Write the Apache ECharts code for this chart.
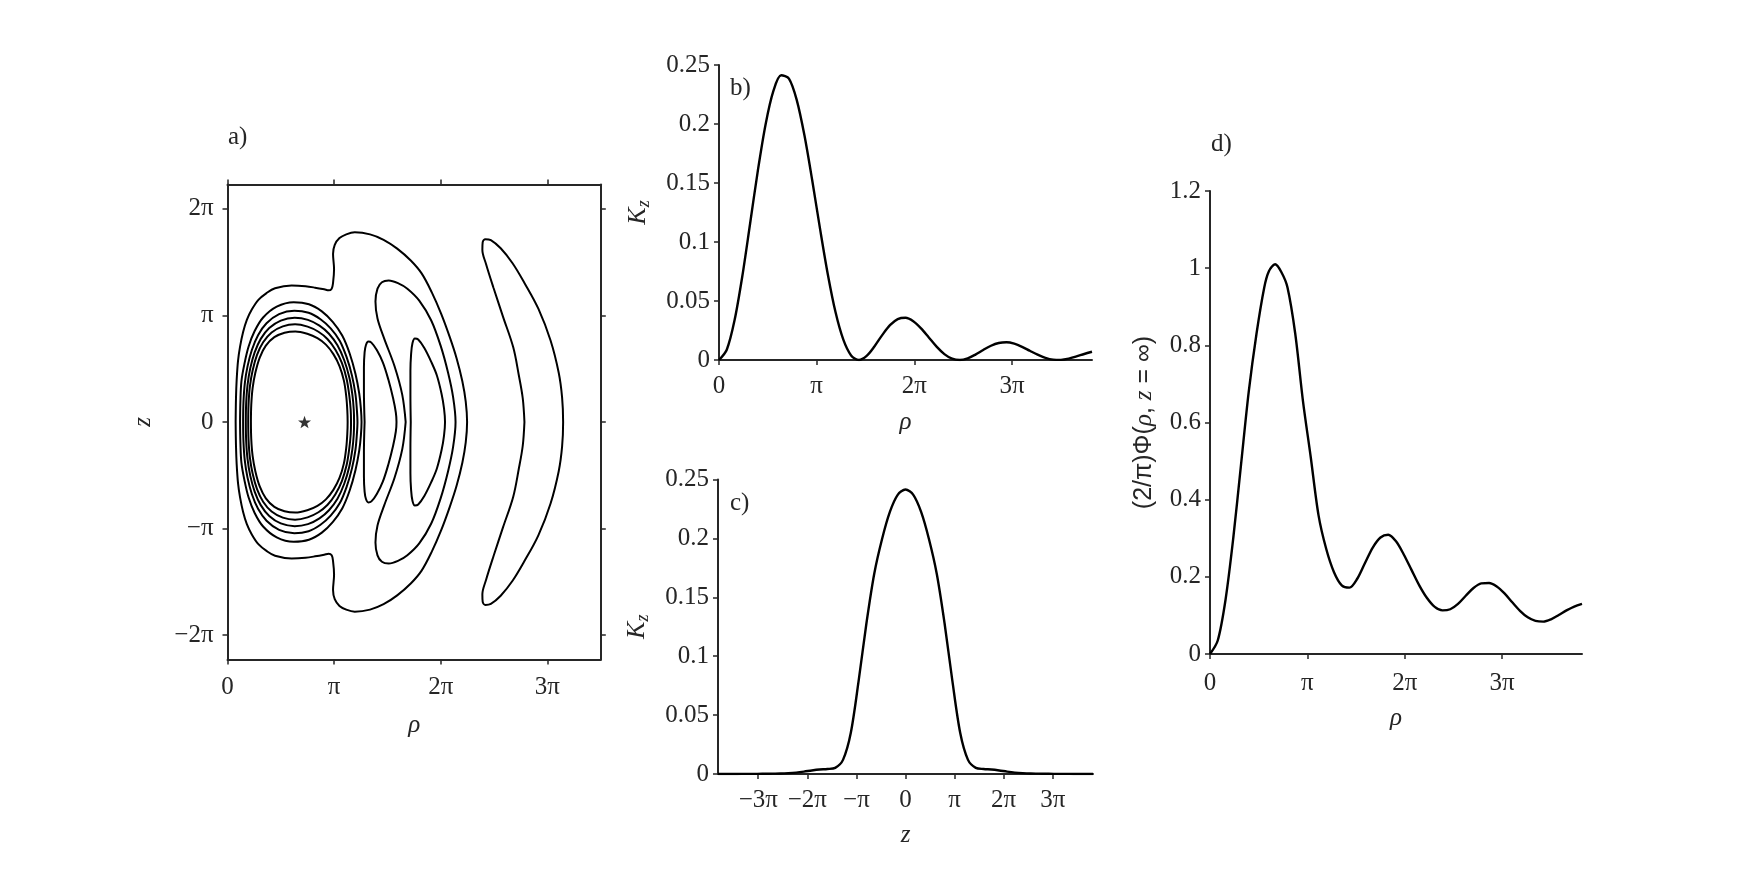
<!DOCTYPE html>
<html><head><meta charset="utf-8">
<script src="https://cdn.jsdelivr.net/npm/echarts@6/dist/echarts.min.js"></script>
<style>html,body{margin:0;padding:0;background:#fff}#c{width:1750px;height:875px}</style>
</head><body><div id="c"></div>
<script>
// ---------- tick labels ----------
const piLabels = {'-3':'\u22123\u03c0','-2':'\u22122\u03c0','-1':'\u2212\u03c0','0':'0','1':'\u03c0','2':'2\u03c0','3':'3\u03c0'};
const aRhoTickMult = [0,1,2,3];
const aZTickMult = [-2,-1,0,1,2];
const bRhoTickMult = [0,1,2,3];
const cZTickMult = [-3,-2,-1,0,1,2,3];
const dRhoTickMult = [0,1,2,3];

// ---------- panel a: contour lines (rho, z) ----------
const contourOuter = [[0.24,0],[0.25,0.7],[0.27,1.24],[0.31,1.8],[0.37,2.22],[0.46,2.65],[0.57,3.01],[0.72,3.32],[0.91,3.60],[1.15,3.80],[1.40,3.94],[1.89,4.02],[2.30,4.00],[2.58,3.96],[2.85,3.91],[2.98,3.88],[3.07,3.93],[3.11,4.10],[3.14,4.50],[3.11,4.95],[3.16,5.22],[3.30,5.42],[3.50,5.53],[3.75,5.59],[4.20,5.53],[4.60,5.37],[5.00,5.11],[5.40,4.76],[5.72,4.38],[6.02,3.82],[6.30,3.18],[6.55,2.50],[6.75,1.88],[6.92,1.20],[7.02,0.60],[7.06,0],
 [7.02,-0.60],[6.92,-1.20],[6.75,-1.88],[6.55,-2.50],[6.30,-3.18],[6.02,-3.82],[5.72,-4.38],[5.40,-4.76],[5.00,-5.11],[4.60,-5.37],[4.20,-5.53],[3.75,-5.59],[3.50,-5.53],[3.30,-5.42],[3.16,-5.22],[3.11,-4.95],[3.14,-4.50],[3.11,-4.10],[3.07,-3.93],[2.98,-3.88],[2.85,-3.91],[2.58,-3.96],[2.30,-4.00],[1.89,-4.02],[1.40,-3.94],[1.15,-3.80],[0.91,-3.60],[0.72,-3.32],[0.57,-3.01],[0.46,-2.65],[0.37,-2.22],[0.31,-1.8],[0.27,-1.24],[0.25,-0.7],[0.24,0]];
const ring1 = [[0.37,0],[0.38,0.6],[0.41,1.2],[0.50,1.72],[0.62,2.22],[0.80,2.68],[1.05,3.08],[1.45,3.40],[1.95,3.53],[2.40,3.47],[2.78,3.26],[3.10,2.95],[3.38,2.55],[3.60,2.02],[3.77,1.42],[3.88,0.85],[3.93,0.40],[3.95,0],
 [3.93,-0.40],[3.88,-0.85],[3.77,-1.42],[3.60,-2.02],[3.38,-2.55],[3.10,-2.95],[2.78,-3.26],[2.40,-3.47],[1.95,-3.53],[1.45,-3.40],[1.05,-3.08],[0.80,-2.68],[0.62,-2.22],[0.50,-1.72],[0.41,-1.2],[0.38,-0.6],[0.37,0]];
const ring2 = [[0.46,0],[0.47,0.57],[0.51,1.14],[0.59,1.64],[0.72,2.13],[0.90,2.56],[1.15,2.91],[1.52,3.18],[1.97,3.28],[2.39,3.22],[2.74,3.03],[3.04,2.76],[3.31,2.39],[3.51,1.91],[3.67,1.36],[3.77,0.82],[3.81,0.39],[3.83,0],
 [3.81,-0.39],[3.77,-0.82],[3.67,-1.36],[3.51,-1.91],[3.31,-2.39],[3.04,-2.76],[2.74,-3.03],[2.39,-3.22],[1.97,-3.28],[1.52,-3.18],[1.15,-2.91],[0.90,-2.56],[0.72,-2.13],[0.59,-1.64],[0.51,-1.14],[0.47,-0.57],[0.46,0]];
const ring3 = [[0.54,0],[0.55,0.55],[0.59,1.09],[0.67,1.58],[0.80,2.05],[0.98,2.45],[1.23,2.77],[1.57,2.99],[1.98,3.07],[2.37,3.01],[2.71,2.84],[2.99,2.60],[3.24,2.26],[3.44,1.82],[3.59,1.31],[3.68,0.80],[3.72,0.37],[3.73,0],
 [3.72,-0.37],[3.68,-0.80],[3.59,-1.31],[3.44,-1.82],[3.24,-2.26],[2.99,-2.60],[2.71,-2.84],[2.37,-3.01],[1.98,-3.07],[1.57,-2.99],[1.23,-2.77],[0.98,-2.45],[0.80,-2.05],[0.67,-1.58],[0.59,-1.09],[0.55,-0.55],[0.54,0]];
const ring4 = [[0.61,0],[0.62,0.52],[0.66,1.05],[0.74,1.52],[0.87,1.98],[1.05,2.35],[1.30,2.64],[1.63,2.82],[1.99,2.88],[2.36,2.81],[2.68,2.66],[2.95,2.44],[3.18,2.13],[3.37,1.74],[3.51,1.27],[3.59,0.77],[3.63,0.36],[3.64,0],
 [3.63,-0.36],[3.59,-0.77],[3.51,-1.27],[3.37,-1.74],[3.18,-2.13],[2.95,-2.44],[2.68,-2.66],[2.36,-2.81],[1.99,-2.88],[1.63,-2.82],[1.30,-2.64],[1.05,-2.35],[0.87,-1.98],[0.74,-1.52],[0.66,-1.05],[0.62,-0.52],[0.61,0]];
const ring5 = [[0.69,0],[0.70,0.5],[0.74,1.0],[0.82,1.45],[0.95,1.9],[1.13,2.25],[1.38,2.50],[1.68,2.63],[2.00,2.67],[2.35,2.60],[2.65,2.47],[2.90,2.28],[3.12,2.00],[3.30,1.65],[3.43,1.22],[3.50,0.75],[3.53,0.35],[3.54,0],
 [3.53,-0.35],[3.50,-0.75],[3.43,-1.22],[3.30,-1.65],[3.12,-2.00],[2.90,-2.28],[2.65,-2.47],[2.35,-2.60],[2.00,-2.67],[1.68,-2.63],[1.38,-2.50],[1.13,-2.25],[0.95,-1.9],[0.82,-1.45],[0.74,-1.0],[0.70,-0.5],[0.69,0]];
const lobeA = [[4.04,0],[4.02,0.9],[4.02,1.6],[4.04,2.05],[4.08,2.27],[4.15,2.37],[4.24,2.34],[4.40,2.12],[4.58,1.75],[4.74,1.25],[4.88,0.70],[4.96,0.28],[4.98,0],
 [4.96,-0.28],[4.88,-0.70],[4.74,-1.25],[4.58,-1.75],[4.40,-2.12],[4.24,-2.34],[4.15,-2.37],[4.08,-2.27],[4.04,-2.05],[4.02,-1.6],[4.02,-0.9],[4.04,0]];
const lobeB = [[5.25,0],[5.15,0.8],[4.92,1.65],[4.62,2.45],[4.42,3.05],[4.36,3.55],[4.42,3.93],[4.55,4.12],[4.75,4.17],[5.05,4.08],[5.30,3.93],[5.65,3.58],[6.00,3.00],[6.28,2.25],[6.50,1.45],[6.65,0.72],[6.72,0],
 [6.65,-0.72],[6.50,-1.45],[6.28,-2.25],[6.00,-3.00],[5.65,-3.58],[5.30,-3.93],[5.05,-4.08],[4.75,-4.17],[4.55,-4.12],[4.42,-3.93],[4.36,-3.55],[4.42,-3.05],[4.62,-2.45],[4.92,-1.65],[5.15,-0.8],[5.25,0]];
const lobeC = [[5.40,0],[5.39,0.8],[5.39,1.5],[5.41,2.0],[5.45,2.32],[5.52,2.46],[5.62,2.43],[5.80,2.18],[6.00,1.78],[6.17,1.37],[6.31,0.82],[6.38,0.40],[6.41,0],
 [6.38,-0.40],[6.31,-0.82],[6.17,-1.37],[6.00,-1.78],[5.80,-2.18],[5.62,-2.43],[5.52,-2.46],[5.45,-2.32],[5.41,-2.0],[5.39,-1.5],[5.39,-0.8],[5.40,0]];
const lobeD = [[8.75,0],[8.70,0.7],[8.58,1.4],[8.42,2.2],[8.12,3.1],[7.84,3.95],[7.62,4.65],[7.51,5.08],[7.52,5.30],[7.60,5.39],[7.76,5.36],[8.05,5.12],[8.40,4.68],[8.75,4.10],[9.16,3.34],[9.52,2.40],[9.76,1.45],[9.86,0.72],[9.89,0],
 [9.86,-0.72],[9.76,-1.45],[9.52,-2.40],[9.16,-3.34],[8.75,-4.10],[8.40,-4.68],[8.05,-5.12],[7.76,-5.36],[7.60,-5.39],[7.52,-5.30],[7.51,-5.08],[7.62,-4.65],[7.84,-3.95],[8.12,-3.1],[8.42,-2.2],[8.58,-1.4],[8.70,-0.7],[8.75,0]];
const starPoint = [[2.27,0]];

// ---------- panel b: K_z vs rho ----------
const bRho = [0,0.25,0.5,0.75,1,1.25,1.5,1.75,2,2.25,2.5,2.75,3,3.25,3.5,3.75,4,4.25,4.5,4.75,5,5.25,5.5,5.75,6,6.25,6.5,6.75,7,7.25,7.5,7.75,8,8.25,8.5,8.75,9,9.25,9.5,9.75,10,10.25,10.5,10.75,11,11.25,11.5,11.75,12];
const bK = [0,0.0087,0.0336,0.0710,0.1155,0.1605,0.1998,0.2280,0.2413,0.2385,0.2205,0.1902,0.1521,0.1113,0.0727,0.0404,0.0172,0.0039,0.0000,0.0035,0.0115,0.0211,0.0295,0.0347,0.0358,0.0329,0.0268,0.0191,0.0113,0.0050,0.0011,0.0000,0.0014,0.0046,0.0085,0.0121,0.0144,0.0150,0.0138,0.0112,0.0078,0.0045,0.0018,0.0003,0.0001,0.0011,0.0030,0.0051,0.0070];

// ---------- panel c: K_z vs z ----------
const cZ = [-12,-11.5,-11,-10.5,-10,-9.5,-9,-8.5,-8,-7.5,-7,-6.5,-6,-5.5,-5,-4.5,-4,-3.5,-3,-2.5,-2,-1.5,-1,-0.5,0,0.5,1,1.5,2,2.5,3,3.5,4,4.5,5,5.5,6,6.5,7,7.5,8,8.5,9,9.5,10,10.5,11,11.5,12];
const cK = [0,0,0,0.0001,0.0001,0.0001,0.0002,0.0003,0.0004,0.0007,0.0012,0.0020,0.0030,0.0038,0.0042,0.0052,0.0120,0.0350,0.0790,0.1280,0.1700,0.1995,0.2225,0.2370,0.2415,0.2370,0.2225,0.1995,0.1700,0.1280,0.0790,0.0350,0.0120,0.0052,0.0042,0.0038,0.0030,0.0020,0.0012,0.0007,0.0004,0.0003,0.0002,0.0001,0.0001,0.0001,0,0,0];

// ---------- panel d: (2/pi) Phi(rho, z = inf) ----------
const dRho = [0,0.25,0.5,0.75,1,1.25,1.5,1.75,1.9,2.1,2.3,2.5,2.75,3,3.25,3.5,3.75,4,4.25,4.5,4.75,5,5.25,5.5,5.75,6,6.25,6.5,6.75,7,7.25,7.5,7.75,8,8.25,8.5,8.75,9,9.25,9.5,9.75,10,10.25,10.5,10.75,11,11.25,11.5,11.75,12];
const dPhi = [0,0.035,0.140,0.300,0.490,0.680,0.830,0.950,0.992,1.010,0.990,0.950,0.830,0.655,0.510,0.360,0.272,0.212,0.178,0.172,0.195,0.236,0.276,0.302,0.309,0.292,0.258,0.218,0.178,0.145,0.122,0.113,0.116,0.130,0.151,0.171,0.183,0.184,0.175,0.157,0.134,0.112,0.095,0.086,0.084,0.090,0.101,0.113,0.123,0.130];

// ---------- build ----------
const FONT = "'Liberation Serif','DejaVu Serif',serif";
const AX = '#262626';
const FS = 25;
const PI = Math.PI;
const zip = (xs, ys) => xs.map((x, i) => [x, ys[i]]);
const piVals = m => m.map(k => k * PI);
const piFmt = v => piLabels[String(Math.round(v / PI))];

function axisCommon(o) {
  return Object.assign({
    type: 'value',
    splitLine: { show: false },
    axisLine: { show: true, onZero: false, lineStyle: { color: AX, width: 2 } },
    axisTick: { show: true, inside: false, length: 5, lineStyle: { color: AX, width: 1.5 } },
    axisLabel: { color: AX, fontFamily: FONT, fontSize: FS },
    nameTextStyle: { color: AX, fontFamily: FONT, fontSize: FS },
    nameLocation: 'middle'
  }, o);
}
const tickStyle = { color: AX, width: 1.5 };
const richK = { k: { fontStyle: 'italic', fontFamily: FONT, fontSize: 26, color: AX, lineHeight: 30 },
                s: { fontStyle: 'italic', fontFamily: FONT, fontSize: 18, color: AX, verticalAlign: 'bottom', lineHeight: 30 } };
const richI = { i: { fontStyle: 'italic', fontFamily: FONT, fontSize: FS, color: AX } };

const lineStyleC = { color: '#000', width: 2 };
const contourSeries = [contourOuter, ring1, ring2, ring3, ring4, ring5, lobeA, lobeB, lobeC, lobeD].map(d => ({
  type: 'line', xAxisIndex: 0, yAxisIndex: 0, data: d, showSymbol: false, smooth: 0.35,
  lineStyle: lineStyleC, silent: true
}));

function piXLabel(mult, margin) {
  return { color: AX, fontFamily: FONT, fontSize: FS, margin: margin, customValues: piVals(mult), formatter: piFmt };
}

const option = {
  animation: false,
  backgroundColor: '#fff',
  grid: [
    { left: 227.5, top: 184.5, width: 373.3, height: 475, outerBoundsMode: 'none' },
    { left: 719, top: 65, width: 373, height: 295, outerBoundsMode: 'none' },
    { left: 718, top: 479.5, width: 375, height: 294.5, outerBoundsMode: 'none' },
    { left: 1210, top: 191, width: 372, height: 463, outerBoundsMode: 'none' }
  ],
  xAxis: [
    axisCommon({ gridIndex: 0, min: 0, max: 11, position: 'bottom',
      axisTick: { show: true, length: 5, customValues: piVals(aRhoTickMult), lineStyle: tickStyle },
      axisLabel: piXLabel(aRhoTickMult, 15),
      name: '{i|\u03c1}', nameGap: 53, nameTextStyle: { rich: richI, fontSize: FS } }),
    axisCommon({ gridIndex: 0, min: 0, max: 11, position: 'top',
      axisTick: { show: true, length: 5, customValues: piVals(aRhoTickMult), lineStyle: tickStyle },
      axisLabel: { show: false } }),
    axisCommon({ gridIndex: 1, min: 0, max: 12,
      axisTick: { show: true, length: 5, customValues: piVals(bRhoTickMult), lineStyle: tickStyle },
      axisLabel: piXLabel(bRhoTickMult, 14),
      name: '{i|\u03c1}', nameGap: 50, nameTextStyle: { rich: richI, fontSize: FS } }),
    axisCommon({ gridIndex: 2, min: -12, max: 12,
      axisTick: { show: true, length: 5, customValues: piVals(cZTickMult), lineStyle: tickStyle },
      axisLabel: piXLabel(cZTickMult, 14),
      name: '{i|z}', nameGap: 49, nameTextStyle: { rich: richI, fontSize: FS } }),
    axisCommon({ gridIndex: 3, min: 0, max: 12,
      axisTick: { show: true, length: 5, customValues: piVals(dRhoTickMult), lineStyle: tickStyle },
      axisLabel: piXLabel(dRhoTickMult, 17),
      name: '{i|\u03c1}', nameGap: 52, nameTextStyle: { rich: richI, fontSize: FS } })
  ],
  yAxis: [
    axisCommon({ gridIndex: 0, min: -7, max: 7, position: 'left',
      axisTick: { show: true, length: 5, customValues: piVals(aZTickMult), lineStyle: tickStyle },
      axisLabel: piXLabel(aZTickMult, 14),
      name: '{i|z}', nameGap: 72, nameRotate: 90, nameTextStyle: { rich: richI, fontSize: FS } }),
    axisCommon({ gridIndex: 0, min: -7, max: 7, position: 'right',
      axisTick: { show: true, length: 5, customValues: piVals(aZTickMult), lineStyle: tickStyle },
      axisLabel: { show: false } }),
    axisCommon({ gridIndex: 1, min: 0, max: 0.25, interval: 0.05,
      axisLabel: { color: AX, fontFamily: FONT, fontSize: FS, margin: 9 },
      name: '{k|K}{s|z}', nameGap: 66, nameRotate: 90, nameTextStyle: { rich: richK } }),
    axisCommon({ gridIndex: 2, min: 0, max: 0.25, interval: 0.05,
      axisLabel: { color: AX, fontFamily: FONT, fontSize: FS, margin: 9 },
      name: '{k|K}{s|z}', nameGap: 66, nameRotate: 90, nameTextStyle: { rich: richK } }),
    axisCommon({ gridIndex: 3, min: 0, max: 1.2, interval: 0.2,
      axisLabel: { color: AX, fontFamily: FONT, fontSize: FS, margin: 9 },
      name: '(2/\u03c0)\u03a6({i|\u03c1}, {i|z} = \u221e)', nameGap: 53, nameRotate: 90, nameTextStyle: { rich: richI, fontSize: FS } })
  ],
  series: contourSeries.concat([
    { type: 'scatter', xAxisIndex: 0, yAxisIndex: 0, data: starPoint,
      symbol: 'path://M0,-10L2.35,-3.24L9.51,-3.09L3.8,1.24L5.88,8.09L0,4L-5.88,8.09L-3.8,1.24L-9.51,-3.09L-2.35,-3.24Z',
      symbolSize: 13, symbolKeepAspect: true, itemStyle: { color: '#000' }, silent: true },
    { type: 'line', xAxisIndex: 2, yAxisIndex: 2, data: zip(bRho, bK), showSymbol: false, smooth: 0.3, lineStyle: { color: '#000', width: 2.4 } },
    { type: 'line', xAxisIndex: 3, yAxisIndex: 3, data: zip(cZ, cK), showSymbol: false, smooth: 0.3, lineStyle: { color: '#000', width: 2.4 } },
    { type: 'line', xAxisIndex: 4, yAxisIndex: 4, data: zip(dRho, dPhi), showSymbol: false, smooth: 0.3, lineStyle: { color: '#000', width: 2.4 } }
  ]),
  graphic: [
    { type: 'text', left: 228, top: 125, style: { text: 'a)', font: '25px ' + FONT, fill: AX } },
    { type: 'text', left: 730, top: 76, style: { text: 'b)', font: '25px ' + FONT, fill: AX } },
    { type: 'text', left: 730, top: 491, style: { text: 'c)', font: '25px ' + FONT, fill: AX } },
    { type: 'text', left: 1211, top: 132, style: { text: 'd)', font: '25px ' + FONT, fill: AX } }
  ]
};
const chart = echarts.init(document.getElementById('c'), null, { renderer: 'canvas' });
chart.setOption(option);
</script></body></html>
